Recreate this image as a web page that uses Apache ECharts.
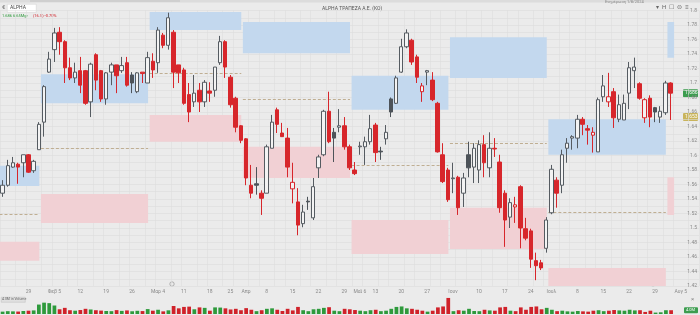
<!DOCTYPE html>
<html><head><meta charset="utf-8">
<script src="https://cdn.jsdelivr.net/npm/echarts/dist/echarts.min.js"></script>
<style>html,body{margin:0;padding:0;background:#ebebeb}#c{width:700px;height:315px}</style>
</head><body><div id="c"></div>
<script>
// ---- DATA ----
const dates = [
'2024-01-22','2024-01-23','2024-01-24','2024-01-25','2024-01-26',
'2024-01-29','2024-01-30','2024-01-31','2024-02-01','2024-02-02',
'2024-02-05','2024-02-06','2024-02-07','2024-02-08','2024-02-09',
'2024-02-12','2024-02-13','2024-02-14','2024-02-15','2024-02-16',
'2024-02-19','2024-02-20','2024-02-21','2024-02-22','2024-02-23',
'2024-02-26','2024-02-27','2024-02-28','2024-02-29','2024-03-01',
'2024-03-04','2024-03-05','2024-03-06','2024-03-07','2024-03-08',
'2024-03-11','2024-03-12','2024-03-13','2024-03-14','2024-03-15',
'2024-03-19','2024-03-20','2024-03-21','2024-03-22',
'2024-03-26','2024-03-27','2024-03-28',
'2024-04-01','2024-04-02','2024-04-03','2024-04-04',
'2024-04-08','2024-04-09','2024-04-10','2024-04-11','2024-04-12',
'2024-04-15','2024-04-16','2024-04-17','2024-04-18','2024-04-19',
'2024-04-22','2024-04-23','2024-04-24','2024-04-25','2024-04-26',
'2024-04-29','2024-04-30','2024-05-02',
'2024-05-07','2024-05-08','2024-05-09',
'2024-05-13','2024-05-14','2024-05-15','2024-05-16','2024-05-17',
'2024-05-20','2024-05-21','2024-05-22','2024-05-23','2024-05-24',
'2024-05-27','2024-05-28','2024-05-29','2024-05-30','2024-05-31',
'2024-06-03','2024-06-04','2024-06-05','2024-06-06','2024-06-07',
'2024-06-10','2024-06-11','2024-06-12','2024-06-13','2024-06-14',
'2024-06-17','2024-06-18','2024-06-19','2024-06-20','2024-06-21',
'2024-06-25','2024-06-26','2024-06-27','2024-06-28',
'2024-07-01','2024-07-02','2024-07-03','2024-07-04','2024-07-05',
'2024-07-08','2024-07-09','2024-07-10','2024-07-11','2024-07-12',
'2024-07-15','2024-07-16','2024-07-17','2024-07-18','2024-07-19',
'2024-07-22','2024-07-23','2024-07-24','2024-07-25','2024-07-26',
'2024-07-29','2024-07-30','2024-07-31','2024-08-01',
'2024-08-02','2024-08-05','2024-08-06','2024-08-07','2024-08-08'
];
// [open, close, low, high]
const ohlc = [
[1.548,1.559,1.543,1.566],[1.559,1.586,1.557,1.594],[1.584,1.590,1.583,1.598],[1.588,1.584,1.561,1.590],[1.590,1.601,1.570,1.601],
[1.601,1.577,1.576,1.602],[1.579,1.592,1.576,1.594],[1.608,1.643,1.608,1.646],[1.646,1.695,1.626,1.697],[1.715,1.733,1.714,1.743],
[1.746,1.769,1.729,1.776],[1.770,1.757,1.739,1.777],[1.757,1.721,1.700,1.759],[1.721,1.707,1.704,1.735],[1.707,1.715,1.700,1.728],
[1.717,1.697,1.686,1.736],[1.717,1.672,1.670,1.718],[1.674,1.726,1.653,1.728],[1.739,1.704,1.690,1.741],[1.717,1.678,1.674,1.718],
[1.678,1.714,1.670,1.715],[1.715,1.725,1.697,1.728],[1.725,1.710,1.686,1.725],[1.717,1.724,1.714,1.736],[1.728,1.697,1.695,1.736],
[1.711,1.700,1.686,1.715],[1.688,1.714,1.686,1.715],[1.715,1.713,1.700,1.715],[1.700,1.735,1.700,1.743],[1.730,1.718,1.707,1.741],
[1.728,1.773,1.714,1.777],[1.766,1.752,1.748,1.769],[1.752,1.790,1.746,1.797],[1.770,1.715,1.693,1.773],[1.725,1.714,1.700,1.725],
[1.718,1.672,1.670,1.721],[1.684,1.660,1.646,1.700],[1.674,1.686,1.667,1.711],[1.690,1.674,1.660,1.700],[1.674,1.701,1.667,1.704],
[1.689,1.686,1.674,1.701],[1.690,1.722,1.681,1.722],[1.728,1.757,1.725,1.765],[1.757,1.722,1.707,1.759],[1.708,1.670,1.666,1.711],
[1.679,1.639,1.632,1.681],[1.641,1.621,1.617,1.642],[1.623,1.569,1.559,1.624],[1.559,1.548,1.541,1.587],[1.561,1.559,1.546,1.584],
[1.548,1.541,1.518,1.552],[1.548,1.612,1.548,1.615],[1.610,1.646,1.610,1.656],[1.663,1.643,1.631,1.666],[1.631,1.626,1.626,1.645],
[1.624,1.584,1.570,1.638],[1.554,1.563,1.534,1.590],[1.536,1.504,1.490,1.555],[1.506,1.522,1.501,1.532],[1.537,1.536,1.525,1.543],
[1.514,1.557,1.511,1.569],[1.583,1.598,1.569,1.601],[1.601,1.661,1.599,1.663],[1.661,1.619,1.617,1.688],[1.632,1.624,1.591,1.638],
[1.639,1.641,1.632,1.664],[1.641,1.612,1.608,1.653],[1.612,1.583,1.580,1.615],[1.580,1.575,1.573,1.591],[1.612,1.613,1.601,1.619],
[1.612,1.619,1.587,1.626],[1.619,1.637,1.615,1.656],[1.642,1.604,1.591,1.645],[1.606,1.605,1.594,1.612],[1.623,1.632,1.615,1.642],
[1.678,1.660,1.653,1.680],[1.672,1.707,1.671,1.710],[1.715,1.750,1.714,1.761],[1.750,1.769,1.748,1.774],[1.759,1.729,1.725,1.761],
[1.736,1.708,1.700,1.739],[1.688,1.696,1.674,1.700],[1.715,1.717,1.697,1.718],[1.704,1.677,1.675,1.715],[1.672,1.605,1.604,1.674],
[1.601,1.564,1.562,1.617],[1.580,1.539,1.536,1.583],[1.568,1.569,1.548,1.590],[1.570,1.528,1.518,1.572],[1.548,1.569,1.529,1.576],
[1.601,1.583,1.570,1.619],[1.584,1.610,1.562,1.617],[1.580,1.615,1.562,1.621],[1.615,1.590,1.570,1.628],[1.583,1.610,1.570,1.632],
[1.610,1.609,1.598,1.624],[1.591,1.528,1.521,1.601],[1.548,1.511,1.474,1.552],[1.515,1.535,1.500,1.541],[1.529,1.532,1.507,1.543],
[1.557,1.500,1.472,1.559],[1.499,1.486,1.483,1.514],[1.496,1.457,1.445,1.499],[1.455,1.448,1.428,1.466],[1.452,1.445,1.442,1.456],
[1.472,1.511,1.466,1.515],[1.521,1.581,1.519,1.587],[1.566,1.548,1.528,1.570],[1.559,1.601,1.548,1.608],[1.610,1.617,1.590,1.624],
[1.624,1.626,1.608,1.628],[1.624,1.650,1.610,1.656],[1.650,1.643,1.628,1.653],[1.637,1.635,1.615,1.642],[1.628,1.632,1.604,1.639],
[1.605,1.677,1.605,1.680],[1.681,1.696,1.674,1.711],[1.674,1.681,1.667,1.714],[1.688,1.652,1.638,1.693],[1.650,1.670,1.646,1.684],
[1.649,1.672,1.649,1.684],[1.686,1.721,1.664,1.729],[1.717,1.722,1.693,1.735],[1.699,1.679,1.677,1.701],[1.652,1.677,1.645,1.679],
[1.679,1.653,1.639,1.683],[1.666,1.660,1.646,1.667],[1.653,1.661,1.645,1.668],[1.659,1.700,1.656,1.703],[1.700,1.686,1.649,1.701]
];
// volume, millions
const volume = [
2.5,3,2.8,2.6,3.2,3.5,3.8,10,12,11.5,
9,5,6.5,4,3.5,4.2,5.5,4.8,4,3.6,
3.2,3,4.1,3.3,3.8,2.9,3.4,3.1,5.2,3.5,
4.5,2.8,3.9,8.5,6,7.5,7.8,5,7,6.5,
3.5,7,6.8,6,4.8,5.5,4,6.2,4.5,3,
4,5.5,6,4.5,3.2,5.5,3.8,7.5,4,3,
5,5.5,6.5,7.2,3.5,3,5.5,5,4.2,3.5,
3,4,4.5,3,3.5,5.5,7.5,8,6,5.5,
4.5,3.5,2.5,3.5,7,8,17,3,4,3.5,
5.5,3.2,3,4.5,3.8,3.5,7,7.5,3.5,3,
7,4.5,7.5,8,5,6.5,4.5,3,3.5,2.8,
2.5,3.2,2.8,2.5,3.5,4,3,3.5,4.2,3.8,
3.5,4.5,3.8,4,2.2,3.5,1.5,1.8,4,4
];
// week tick labels (first trading day of week -> text)
const tickLabels = {
'2024-01-29':'29','2024-02-05':'Φεβ 5','2024-02-12':'12','2024-02-19':'19','2024-02-26':'26',
'2024-03-04':'Μαρ 4','2024-03-11':'11','2024-03-19':'18','2024-03-26':'25','2024-04-01':'Απρ',
'2024-04-08':'8','2024-04-15':'15','2024-04-22':'22','2024-04-29':'29','2024-05-07':'Μαϊ 6',
'2024-05-13':'13','2024-05-20':'20','2024-05-27':'27','2024-06-03':'Ιουν','2024-06-10':'10',
'2024-06-17':'17','2024-06-25':'24','2024-07-01':'Ιουλ','2024-07-08':'8','2024-07-15':'15',
'2024-07-22':'22','2024-07-29':'29','2024-08-05':'Αυγ 5'
};
// monthly zones: [start, end, blueLow, blueHigh, pinkLow, pinkHigh, pivot]
const zones = [
['2024-01-22','2024-01-31',1.558,1.586,1.455,1.481,1.519],
['2024-02-01','2024-02-29',1.672,1.712,1.507,1.547,1.610],
['2024-03-01','2024-03-28',1.773,1.798,1.619,1.656,1.714],
['2024-04-01','2024-04-30',1.741,1.784,1.569,1.612,1.678],
['2024-05-02','2024-05-31',1.663,1.710,1.464,1.511,1.587],
['2024-06-03','2024-06-28',1.707,1.763,1.471,1.528,1.617],
['2024-07-01','2024-07-31',1.601,1.650,1.418,1.445,1.522],
['2024-08-01','2024-08-01',1.735,1.784,1.518,1.570,null]
];
const refPrice = 1.653;
const titleText = 'ALPHA ΤΡΑΠΕΖΑ Α.Ε. (ΚΟ)';

// ---- STYLE ----
const RED = '#d7262b', GREY = '#555b61', DARK = '#4d5359', FILL = '#f3f3f3';
const candleData = ohlc.map((d, i) => {
  const prev = i > 0 ? ohlc[i - 1][1] : d[0];
  let fill, border;
  if (d[1] >= d[0]) { if (d[1] >= prev) { fill = FILL; border = GREY; } else { fill = FILL; border = RED; } }
  else { if (d[1] >= prev) { fill = DARK; border = DARK; } else { fill = RED; border = RED; } }
  return { value: d, itemStyle: { color: fill, color0: fill, borderColor: border, borderColor0: border } };
});
const volData = volume.map((v, i) => {
  const prev = i > 0 ? ohlc[i - 1][1] : ohlc[i][0];
  return { value: v, itemStyle: { color: ohlc[i][1] >= prev ? '#2e9a3c' : '#d0222a' } };
});

const chart = echarts.init(document.getElementById('c'), null, { renderer: 'canvas' });
const FONT = 'Roboto, "Noto Sans", sans-serif';
const gridL = -1.6, gridR = 0.4;
const option = {
  backgroundColor: '#ebebeb',
  animation: false,
  textStyle: { fontFamily: FONT },
  grid: [
    { left: gridL, right: gridR, top: 10.5, bottom: 29 },
    { left: gridL, right: gridR, top: 297, height: 17 }
  ],
  xAxis: [
    { type: 'category', data: dates, gridIndex: 0, boundaryGap: true,
      axisLine: { show: false }, axisTick: { show: false },
      axisLabel: { interval: (i, v) => !!tickLabels[v], formatter: v => tickLabels[v] || '',
        fontSize: 5, color: '#8a8a8a', margin: 3, fontFamily: FONT },
      splitLine: { show: true, interval: (i) => Math.floor(i / 2.5) !== Math.floor((i - 1) / 2.5),
        lineStyle: { color: '#dddddd', width: 0.6 } } },
    { type: 'category', data: dates, gridIndex: 1, boundaryGap: true,
      axisLine: { show: false }, axisTick: { show: false }, axisLabel: { show: false }, splitLine: { show: false } }
  ],
  yAxis: [
    { type: 'value', gridIndex: 0, position: 'right', min: 1.42, max: 1.80, interval: 0.01, scale: true,
      axisLine: { show: false }, axisTick: { show: false },
      axisLabel: { inside: true, fontSize: 5, color: '#8a8a8a', margin: 2, fontFamily: FONT,
        formatter: v => (Math.round(v * 100) % 2 === 0 ? String(parseFloat(v.toFixed(2))) : '') },
      splitLine: { lineStyle: { color: '#dcdcdc', width: 0.6 } } },
    { type: 'value', gridIndex: 1, min: 0, max: 18, show: false, splitLine: { show: false } }
  ],
  series: [
    { type: 'custom', name: 'zones', xAxisIndex: 0, yAxisIndex: 0, z: 1, clip: true,
      data: zones,
      encode: { x: [0, 1], y: [2, 3, 4, 5] },
      renderItem: function (params, api) {
        const i0 = api.value(0), i1 = api.value(1);
        const bw = api.size([1, 0])[0];
        const xa = api.coord([i0, 1.6])[0] - bw / 2 - 0.5;
        const xb = api.coord([i1, 1.6])[0] + (i0 === i1 ? bw / 2 + 1 : 0.5);
        const y = v => api.coord([i0, v])[1];
        const kids = [
          { type: 'rect', shape: { x: xa, y: y(api.value(3)), width: xb - xa, height: y(api.value(2)) - y(api.value(3)) },
            style: { fill: '#c3d8ee' } },
          { type: 'rect', shape: { x: xa, y: y(api.value(5)), width: xb - xa, height: y(api.value(4)) - y(api.value(5)) },
            style: { fill: '#f1d0d4' } }
        ];
        const pv = api.value(6);
        if (pv !== null && !isNaN(pv)) {
          kids.push({ type: 'line', shape: { x1: xa, y1: Math.round(y(pv)) + 0.5, x2: xb, y2: Math.round(y(pv)) + 0.5 },
            style: { stroke: '#bfae92', lineWidth: 1, lineDash: [3, 2] } });
        }
        return { type: 'group', children: kids };
      } },
    { type: 'candlestick', name: 'ALPHA', xAxisIndex: 0, yAxisIndex: 0, z: 3,
      data: candleData, barWidth: '76%', itemStyle: { borderWidth: 1 } },
    { type: 'bar', name: 'Volume', xAxisIndex: 1, yAxisIndex: 1, data: volData, barWidth: '72%' }
  ],
  graphic: [
    { type: 'rect', id: 'tb', left: 0, top: 0, shape: { width: 700, height: 2.5 }, style: { fill: '#dcdcdc' } },
    { type: 'rect', id: 'tb1', left: 30, top: 0, shape: { width: 150, height: 2 }, style: { fill: '#cfcfcf' } },
    { type: 'text', id: 'eur', left: 2, top: 4.5, style: { text: '€', fill: '#777', font: '6px ' + FONT } },
    { type: 'rect', id: 'ibox', left: 7, top: 4, shape: { width: 29, height: 8 }, style: { fill: '#ffffff', stroke: '#cfcfcf', lineWidth: 0.5 } },
    { type: 'text', id: 'itxt', left: 10, top: 5.5, style: { text: 'ALPHA', fill: '#444', font: '5px ' + FONT } },
    { type: 'text', id: 'h1', left: 2, top: 14, style: { text: '1.686 6.65Μgr', fill: '#2e9a3c', font: '4px ' + FONT } },
    { type: 'text', id: 'h2', left: 33, top: 14, style: { text: '(16.5) -0.70%', fill: '#d0222a', font: '4px ' + FONT } },
    { type: 'text', id: 'title', left: 322, top: 6, style: { text: titleText, fill: '#555', font: '5px ' + FONT } },
    { type: 'text', id: 'tr', left: 605, top: 0, style: { text: 'Ενημέρωση 1/8/2024', fill: '#888', font: '4px ' + FONT } },
    { type: 'text', id: 'icons', left: 656, top: 4, style: { text: '▾  H  ☐  ⊜  ≡', fill: '#666', font: '6px ' + FONT } },
    { type: 'circle', id: 'c1', shape: { cx: 172, cy: 284, r: 2.2 }, style: { fill: 'none', stroke: '#888', lineWidth: 0.6 } },
    { type: 'circle', id: 'c2', shape: { cx: 653, cy: 284, r: 2.2 }, style: { fill: 'none', stroke: '#888', lineWidth: 0.6 } },
    { type: 'rect', id: 'vbox', left: 1, top: 297, shape: { width: 24, height: 5 }, style: { fill: '#e0e0e0', stroke: '#bdbdbd', lineWidth: 0.5 } },
    { type: 'text', id: 'vtxt', left: 2, top: 297.5, style: { text: '4.0M in Volume', fill: '#666', font: '3.5px ' + FONT } },
    { type: 'text', id: 'x', left: 691, top: 296, style: { text: '×', fill: '#888', font: '6px ' + FONT } }
  ]
};
chart.setOption(option);

// price tags on right axis, positioned through the axis scale
const lastClose = ohlc[ohlc.length - 1][1];
const yLast = chart.convertToPixel({ yAxisIndex: 0 }, lastClose);
const yRef = chart.convertToPixel({ yAxisIndex: 0 }, refPrice);
const yVol = chart.convertToPixel({ yAxisIndex: 1 }, volume[volume.length - 1]);
chart.setOption({ graphic: [
  { type: 'rect', id: 'tagG', left: 683, top: yLast - 4, shape: { width: 15, height: 8, r: 1 }, style: { fill: '#3c9d4f' } },
  { type: 'text', id: 'tagGt', left: 685, top: yLast - 2.5, style: { text: lastClose.toFixed(3), fill: '#fff', font: '5px ' + FONT } },
  { type: 'rect', id: 'tagY', left: 683, top: yRef - 4, shape: { width: 15, height: 8, r: 1 }, style: { fill: '#c9b45c' } },
  { type: 'text', id: 'tagYt', left: 685, top: yRef - 2.5, style: { text: refPrice.toFixed(3), fill: '#fff', font: '5px ' + FONT } },
  { type: 'rect', id: 'tagV', left: 684, top: yVol - 3, shape: { width: 14, height: 6, r: 1 }, style: { fill: '#3c9d4f' } },
  { type: 'text', id: 'tagVt', left: 686, top: yVol - 2, style: { text: volume[volume.length - 1].toFixed(1) + 'M', fill: '#fff', font: '4px ' + FONT } }
] });
</script></body></html>
